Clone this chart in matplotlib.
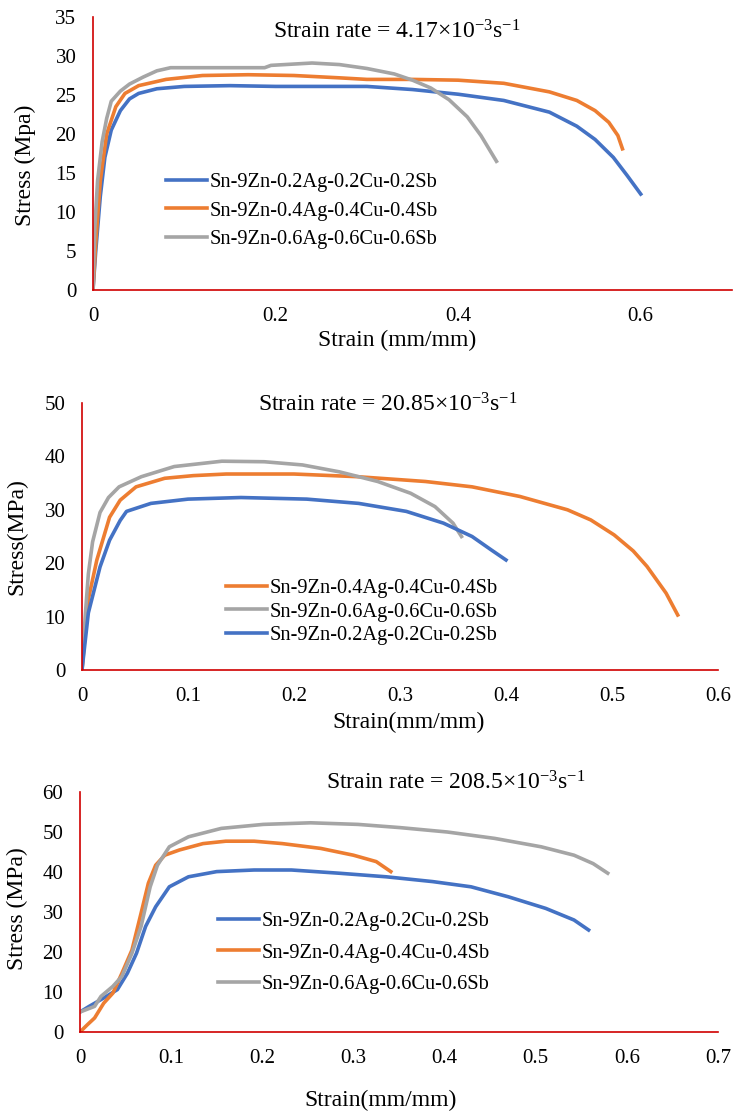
import matplotlib
matplotlib.use("Agg")
import matplotlib.pyplot as plt

plt.rcParams["font.family"] = ["Liberation Serif", "DejaVu Serif"]
plt.rcParams["mathtext.fontset"] = "custom"
plt.rcParams["mathtext.rm"] = "Liberation Serif"
plt.rcParams["mathtext.it"] = "Liberation Serif:italic"
plt.rcParams["mathtext.bf"] = "Liberation Serif:bold"

BLUE = "#4472C4"
ORANGE = "#ED7D31"
GRAY = "#A5A5A5"
RED = "#D00000"

lab02 = "Sn-9Zn-0.2Ag-0.2Cu-0.2Sb"
lab04 = "Sn-9Zn-0.4Ag-0.4Cu-0.4Sb"
lab06 = "Sn-9Zn-0.6Ag-0.6Cu-0.6Sb"

# --- strain rate 4.17e-3 ---
p1_strain_02 = [0, 0.003, 0.008, 0.013, 0.02, 0.03, 0.04, 0.05, 0.07, 0.1, 0.15, 0.2, 0.25, 0.3,
                0.35, 0.4, 0.45, 0.5, 0.53, 0.55, 0.57, 0.585, 0.6]
p1_stress_02 = [0, 5, 12, 17, 20.5, 23, 24.5, 25.2, 25.8, 26.1, 26.2, 26.1, 26.1, 26.1,
                25.7, 25.1, 24.3, 22.8, 21.0, 19.3, 17.0, 14.7, 12.3]
p1_strain_04 = [0, 0.003, 0.008, 0.015, 0.025, 0.035, 0.05, 0.08, 0.12, 0.17, 0.22, 0.27, 0.3,
                0.35, 0.4, 0.45, 0.5, 0.53, 0.55, 0.565, 0.575, 0.58]
p1_stress_04 = [0, 6, 14, 20, 23.5, 25.2, 26.2, 27.0, 27.5, 27.6, 27.5, 27.2, 27.0,
                27.0, 26.9, 26.5, 25.4, 24.3, 23.0, 21.5, 19.8, 18.1]
p1_strain_06 = [0, 0.002, 0.005, 0.01, 0.015, 0.02, 0.03, 0.04, 0.055, 0.07, 0.085, 0.12, 0.15,
                0.188, 0.195, 0.21, 0.24, 0.27, 0.3, 0.33, 0.35, 0.37, 0.39, 0.41, 0.425, 0.442]
p1_stress_06 = [0, 8, 14, 19, 22, 24.2, 25.5, 26.4, 27.3, 28.1, 28.5, 28.5, 28.5,
                28.5, 28.8, 28.9, 29.1, 28.9, 28.4, 27.7, 26.9, 25.9, 24.4, 22.2, 19.8, 16.5]

# --- strain rate 20.85e-3 ---
p2_strain_04 = [0, 0.0057, 0.014, 0.026, 0.036, 0.051, 0.078, 0.105, 0.136, 0.2, 0.26, 0.324,
                0.368, 0.413, 0.458, 0.48, 0.502, 0.52, 0.533, 0.551, 0.562]
p2_stress_04 = [0, 13, 20.6, 28.6, 31.8, 34.3, 35.9, 36.4, 36.7, 36.7, 36.2, 35.3,
                34.3, 32.5, 30.0, 28.1, 25.3, 22.3, 19.4, 14.4, 10.3]
p2_strain_06 = [0, 0.003, 0.006, 0.01, 0.017, 0.025, 0.035, 0.056, 0.087, 0.132, 0.172, 0.208,
                0.243, 0.279, 0.31, 0.333, 0.35, 0.358]
p2_stress_06 = [0, 10, 18, 24, 29.5, 32.3, 34.3, 36.2, 38.1, 39.1, 39.0, 38.4,
                37.1, 35.3, 33.1, 30.6, 27.5, 25.0]
p2_strain_02 = [0, 0.006, 0.017, 0.026, 0.036, 0.042, 0.065, 0.1, 0.15, 0.212, 0.261, 0.306,
                0.341, 0.368, 0.386, 0.4]
p2_stress_02 = [0, 10.7, 19.3, 24.3, 28.0, 29.7, 31.2, 32.0, 32.3, 32.0, 31.2, 29.7,
                27.5, 25.0, 22.5, 20.6]

# --- strain rate 208.5e-3 ---
p3_strain_02 = [0, 0.01, 0.026, 0.041, 0.052, 0.062, 0.072, 0.083, 0.098, 0.119, 0.15, 0.191,
                0.232, 0.284, 0.336, 0.387, 0.429, 0.47, 0.511, 0.542, 0.558]
p3_stress_02 = [5, 6.4, 8.5, 10.6, 14.7, 19.7, 26.4, 31.3, 36.3, 38.8, 40.1, 40.5,
                40.5, 39.7, 38.8, 37.6, 36.3, 33.8, 30.9, 28.0, 25.5]
p3_strain_04 = [0, 0.008, 0.016, 0.026, 0.036, 0.046, 0.057, 0.067, 0.075, 0.083, 0.093, 0.109,
                0.135, 0.16, 0.191, 0.222, 0.264, 0.3, 0.325, 0.341]
p3_stress_04 = [0, 1.8, 3.5, 7.2, 9.7, 14.7, 20.5, 29.7, 37.2, 41.7, 44.2, 45.5,
                47.1, 47.7, 47.7, 47.1, 45.9, 44.2, 42.6, 40.1]
p3_strain_06 = [0, 0.016, 0.023, 0.036, 0.046, 0.057, 0.067, 0.077, 0.085, 0.098, 0.119, 0.155,
                0.201, 0.253, 0.305, 0.351, 0.403, 0.455, 0.506, 0.542, 0.563, 0.579]
p3_stress_06 = [5, 6.4, 8.9, 11.4, 13.9, 19.7, 26.4, 36.3, 41.7, 46.3, 48.8, 50.9,
                51.9, 52.3, 51.9, 51.1, 50.0, 48.4, 46.3, 44.2, 42.1, 39.7]

W, H = 738, 1116
fig = plt.figure(figsize=(W / 100, H / 100), dpi=100)


def box(left, top, right, bottom):
    return [left / W, 1 - bottom / H, (right - left) / W, (bottom - top) / H]


def fx(x):
    return x / W


def fy(y):
    return 1 - y / H


def setup(ax, xmax, xstep, ymax, ystep):
    ax.set_xlim(0, xmax)
    ax.set_ylim(0, ymax)
    n = int(round(xmax / xstep))
    xt = [round(i * xstep, 2) for i in range(n + 1)]
    ax.set_xticks(xt)
    ax.set_xticklabels(["0" if v == 0 else f"{v:g}" for v in xt])
    ax.set_yticks(range(0, ymax + 1, ystep))
    for s in ["top", "right"]:
        ax.spines[s].set_visible(False)
    for s in ["left", "bottom"]:
        ax.spines[s].set_color(RED)
        ax.spines[s].set_linewidth(1.2)
    ax.tick_params(length=0, labelsize=15, pad=12)
    ax.patch.set_alpha(0)


def rate_title(value):
    return "Strain rate = " + value + r"×10$^{\mathrm{-3}}$s$^{\mathrm{-1}}$"


lw = 2.6
leg_kw = dict(bbox_transform=fig.transFigure, loc="center left", frameon=False, fontsize=14.7,
              borderpad=0, borderaxespad=0, handlelength=2.0, handletextpad=0.15)

# panel 1
ax1 = fig.add_axes(box(93, 17, 732, 290))
setup(ax1, 0.7, 0.2, 35, 5)
ax1.set_xticks([0, 0.2, 0.4, 0.6])
ax1.set_xticklabels(["0", "0.2", "0.4", "0.6"])
ax1.plot(p1_strain_02, p1_stress_02, color=BLUE, lw=lw, label=lab02)
ax1.plot(p1_strain_04, p1_stress_04, color=ORANGE, lw=lw, label=lab04)
ax1.plot(p1_strain_06, p1_stress_06, color=GRAY, lw=lw, label=lab06)
ax1.legend(bbox_to_anchor=(fx(166), fy(211)), labelspacing=0.45, **leg_kw)
fig.text(fx(397), fy(32), rate_title("4.17"), fontsize=17, ha="center", va="center")
fig.text(fx(397), fy(340), "Strain (mm/mm)", fontsize=17, ha="center", va="center")
fig.text(fx(25), fy(165), "Stress (Mpa)", fontsize=17, ha="center", va="center", rotation=90)

# panel 2
ax2 = fig.add_axes(box(82, 403, 718, 670))
setup(ax2, 0.6, 0.1, 50, 10)
ax2.plot(p2_strain_04, p2_stress_04, color=ORANGE, lw=lw, label=lab04)
ax2.plot(p2_strain_06, p2_stress_06, color=GRAY, lw=lw, label=lab06)
ax2.plot(p2_strain_02, p2_stress_02, color=BLUE, lw=lw, label=lab02)
ax2.legend(bbox_to_anchor=(fx(226), fy(612)), labelspacing=0.2, **leg_kw)
fig.text(fx(388), fy(405), rate_title("20.85"), fontsize=17, ha="center", va="center")
fig.text(fx(409), fy(722), "Strain(mm/mm)", fontsize=17, ha="center", va="center")
fig.text(fx(17), fy(537), "Stress(MPa)", fontsize=17, ha="center", va="center", rotation=90)

# panel 3
ax3 = fig.add_axes(box(80, 792, 718, 1032))
setup(ax3, 0.7, 0.1, 60, 10)
ax3.plot(p3_strain_02, p3_stress_02, color=BLUE, lw=lw, label=lab02)
ax3.plot(p3_strain_04, p3_stress_04, color=ORANGE, lw=lw, label=lab04)
ax3.plot(p3_strain_06, p3_stress_06, color=GRAY, lw=lw, label=lab06)
ax3.legend(bbox_to_anchor=(fx(218), fy(953)), labelspacing=0.6, **leg_kw)
fig.text(fx(456), fy(783), rate_title("208.5"), fontsize=17, ha="center", va="center")
fig.text(fx(381), fy(1100), "Strain(mm/mm)", fontsize=17, ha="center", va="center")
fig.text(fx(17), fy(909), "Stress (MPa)", fontsize=17, ha="center", va="center", rotation=90)

fig.savefig("out.png", dpi=100)
